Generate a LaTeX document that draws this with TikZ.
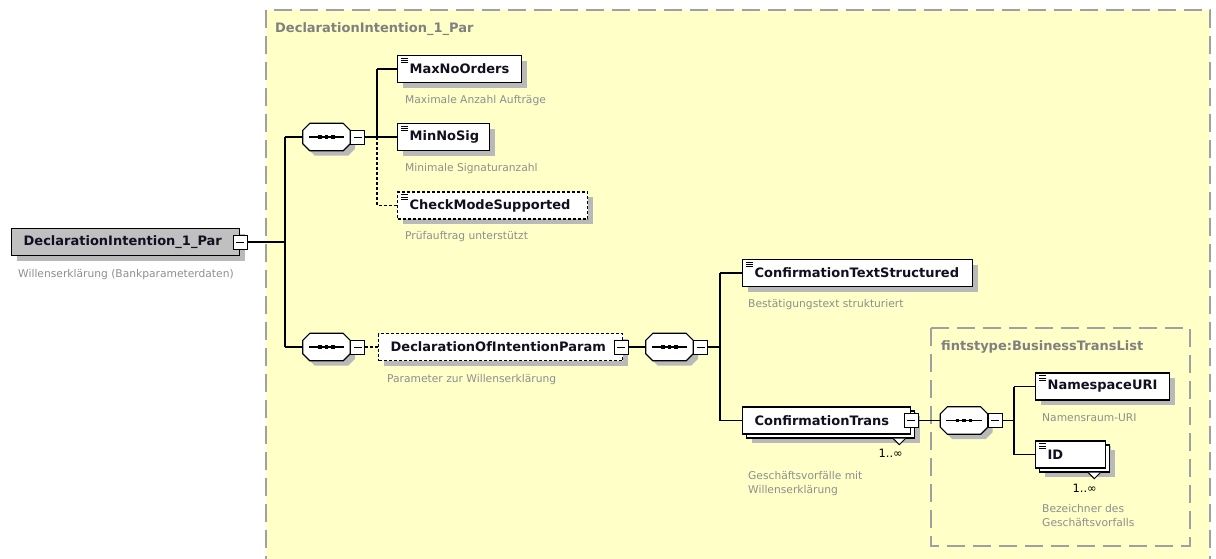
\documentclass[tikz,border=0pt]{standalone}
\usepackage{fontspec}
\setmainfont{DejaVu Sans}
\usetikzlibrary{shadows,calc}
\hyphenpenalty=10000
\exhyphenpenalty=10000
\definecolor{bgyellow}{HTML}{FFFFC8}
\definecolor{grpline}{HTML}{A0A0A0}
\definecolor{shadowc}{HTML}{B9B9B9}
\definecolor{desccol}{HTML}{8E8E8E}
\definecolor{titlec}{HTML}{808080}
\definecolor{rootfill}{HTML}{C0C0C0}
\definecolor{elemtext}{HTML}{101020}
\tikzset{
  grp/.style={draw=grpline, line width=1.4pt, dash pattern=on 18pt off 8pt},
  grptitle/.style={anchor=west, text=titlec, inner sep=0pt, font=\bfseries\fontsize{13}{15}\selectfont},
  elem/.style={draw, line width=1.3pt, fill=white, anchor=west, minimum height=27pt,
    inner xsep=12pt, inner ysep=0pt, text width=#1pt, align=left, text=elemtext,
    font=\bfseries\fontsize{13}{15}\selectfont,
    general shadow={fill=shadowc, shadow xshift=5pt, shadow yshift=-5pt}},
  optelem/.style={elem=#1, dash pattern=on 3pt off 2pt},
  multielem/.style={elem=#1,
    general shadow={fill=shadowc, shadow xshift=9pt, shadow yshift=-9pt},
    general shadow={fill=white, draw=black, line width=1.3pt, shadow xshift=4pt, shadow yshift=-4pt}},
  leaf/.style={path picture={\foreach \dy in {2.7pt,4.9pt,7.1pt}{\draw[line width=0.8pt,solid] ([shift={(3.5pt,-\dy)}]path picture bounding box.north west) -- ++(7pt,0pt);}}},
  minusbox/.style={draw, line width=1pt, fill=white, minimum size=14pt, inner sep=0pt,
    path picture={\draw[line width=1pt] ([xshift=3pt]path picture bounding box.west) -- ([xshift=-3pt]path picture bounding box.east);}},
  seqn/.style={minimum width=47pt, minimum height=27pt, inner sep=0pt},
  descr/.style={anchor=base west, text=desccol, inner sep=0pt, align=left, font=\fontsize{10.7}{14}\selectfont},
  mult/.style={anchor=base east, inner sep=0pt, text=black, font=\fontsize{11.5}{13}\selectfont},
  conn/.style={line width=1.3pt},
  connd/.style={line width=1.3pt, dash pattern=on 3pt off 2pt},
}
\newcommand\xsdseq[1]{%
  \draw[line width=1.2pt, fill=white, general shadow={fill=shadowc, shadow xshift=5pt, shadow yshift=-5pt}]
    ($(#1.north west)+(7,0)$) -- ($(#1.north east)+(-7,0)$) -- ($(#1.north east)+(0,7)$) --
    ($(#1.south east)+(0,-7)$) -- ($(#1.south east)+(-7,0)$) -- ($(#1.south west)+(7,0)$) --
    ($(#1.south west)+(0,-7)$) -- ($(#1.north west)+(0,7)$) -- cycle;
  \draw[line width=1.2pt] ($(#1.west)+(6,0)$) -- ($(#1.east)+(-6,0)$);
  \foreach \dx in {-6.5,0,6.5} \fill ($(#1.center)+(\dx-1.8,-1.8)$) rectangle ++(3.6,3.6);
}
\begin{document}
\begin{tikzpicture}[x=1pt,y=-1pt]
\useasboundingbox (0,0) rectangle (1216,558);
\begin{scope}
  \clip (0,0) rectangle (1216,558);
  \draw[grp, fill=bgyellow] (266,600) -- (266,10) -- (1210,10) -- (1210,600);
  \draw[grp] (931,328) rectangle (1190,546);
\end{scope}
\node[grptitle] (gt1) at (275,29) {DeclarationIntention\_1\_Par};
\node[grptitle] (gt2) at (941,347) {fintstype:BusinessTransList};

% elements
\node[elem=204, fill=rootfill] (root) at (11,242) {DeclarationIntention\_1\_Par};
\node[elem=100, leaf] (maxno) at (397,69) {MaxNoOrders};
\node[elem=68, leaf] (minno) at (397,137) {MinNoSig};
\node[optelem=166, leaf] (chk) at (397,205.5) {CheckModeSupported};
\node[optelem=220] (decl) at (378,347) {DeclarationOfIntentionParam};
\node[elem=206, leaf] (cts) at (742,273) {ConfirmationTextStructured};
\node[multielem=144] (ctr) at (742,420.5) {ConfirmationTrans};
\node[elem=110, leaf] (nsuri) at (1035,386.5) {NamespaceURI};
\node[multielem=46, leaf] (idn) at (1035,454.5) {ID};

% multiplicity markers
\draw[line width=1pt, fill=white] ($(ctr.south east)+(-18,4)$) -- ($(ctr.south east)+(-12,10)$) -- ($(ctr.south east)+(-6,4)$);
\draw[line width=1pt, fill=white] ($(idn.south east)+(-18,4)$) -- ($(idn.south east)+(-12,10)$) -- ($(idn.south east)+(-6,4)$);
\node[mult] (ctrmult) at (903,457) {1..∞};
\node[mult] (idmult) at (1097,492) {1..∞};

% minus boxes on elements
\node[minusbox] (rootm) at (root.east) {};
\node[minusbox] (declm) at ([xshift=-2pt]decl.east) {};
\node[minusbox] (ctrm) at (ctr.east) {};

% sequences
\node[seqn] (s1) at (326.5,137) {}; \xsdseq{s1}
\node[minusbox, anchor=west] (s1m) at (s1.east) {};
\node[seqn] (s2) at (326.5,347) {}; \xsdseq{s2}
\node[minusbox, anchor=west] (s2m) at (s2.east) {};
\node[seqn] (s3) at (669.5,347) {}; \xsdseq{s3}
\node[minusbox, anchor=west] (s3m) at (s3.east) {};
\node[seqn] (s4) at (964,420.5) {}; \xsdseq{s4}
\node[minusbox, anchor=west] (s4m) at (s4.east) {};

% descriptions
\node[descr] (rootd) at (18,277) {Willenserklärung (Bankparameterdaten)};
\node[descr] (maxd) at (405,103) {Maximale Anzahl Aufträge};
\node[descr] (mind) at (405,171) {Minimale Signaturanzahl};
\node[descr] (chkd) at (405,239) {Prüfauftrag unterstützt};
\node[descr] (decld) at (387,382) {Parameter zur Willenserklärung};
\node[descr] (ctsd) at (748,307) {Bestätigungstext strukturiert};
\node[descr] (ctrd) at (748,493) {Geschäftsvorfälle mit\\Willenserklärung};
\node[descr] (nsd) at (1042,421) {Namensraum-URI};
\node[descr] (idd) at (1042,526) {Bezeichner des\\Geschäftsvorfalls};

% junctions
\coordinate (j0) at (285,0);
\coordinate (j1) at (377,0);
\coordinate (j2) at (720,0);
\coordinate (j3) at (1014,0);

% connectors
\draw[conn] (rootm.east) -- (j0 |- rootm.east);
\draw[conn] (j0 |- s1.west) -- (j0 |- s2.west);
\draw[conn] (j0 |- s1.west) -- (s1.west);
\draw[conn] (j0 |- s2.west) -- (s2.west);
\draw[conn] (s1m.east) -- (minno.west);
\draw[conn] (j1 |- maxno.west) -- (maxno.west);
\draw[conn] (j1 |- maxno.west) -- (j1 |- minno.west);
\draw[connd] (j1 |- minno.west) -- (j1 |- chk.west) -- (chk.west);
\draw[connd] (s2m.east) -- (decl.west);
\draw[conn] (declm.east) -- (s3.west);
\draw[conn] (s3m.east) -- (j2 |- s3m.east);
\draw[conn] (j2 |- cts.west) -- (j2 |- ctr.west);
\draw[conn] (j2 |- cts.west) -- (cts.west);
\draw[conn] (j2 |- ctr.west) -- (ctr.west);
\draw[conn] (ctrm.east) -- (s4.west);
\draw[conn] (s4m.east) -- (j3 |- s4m.east);
\draw[conn] (j3 |- nsuri.west) -- (j3 |- idn.west);
\draw[conn] (j3 |- nsuri.west) -- (nsuri.west);
\draw[conn] (j3 |- idn.west) -- (idn.west);
\end{tikzpicture}
\end{document}
